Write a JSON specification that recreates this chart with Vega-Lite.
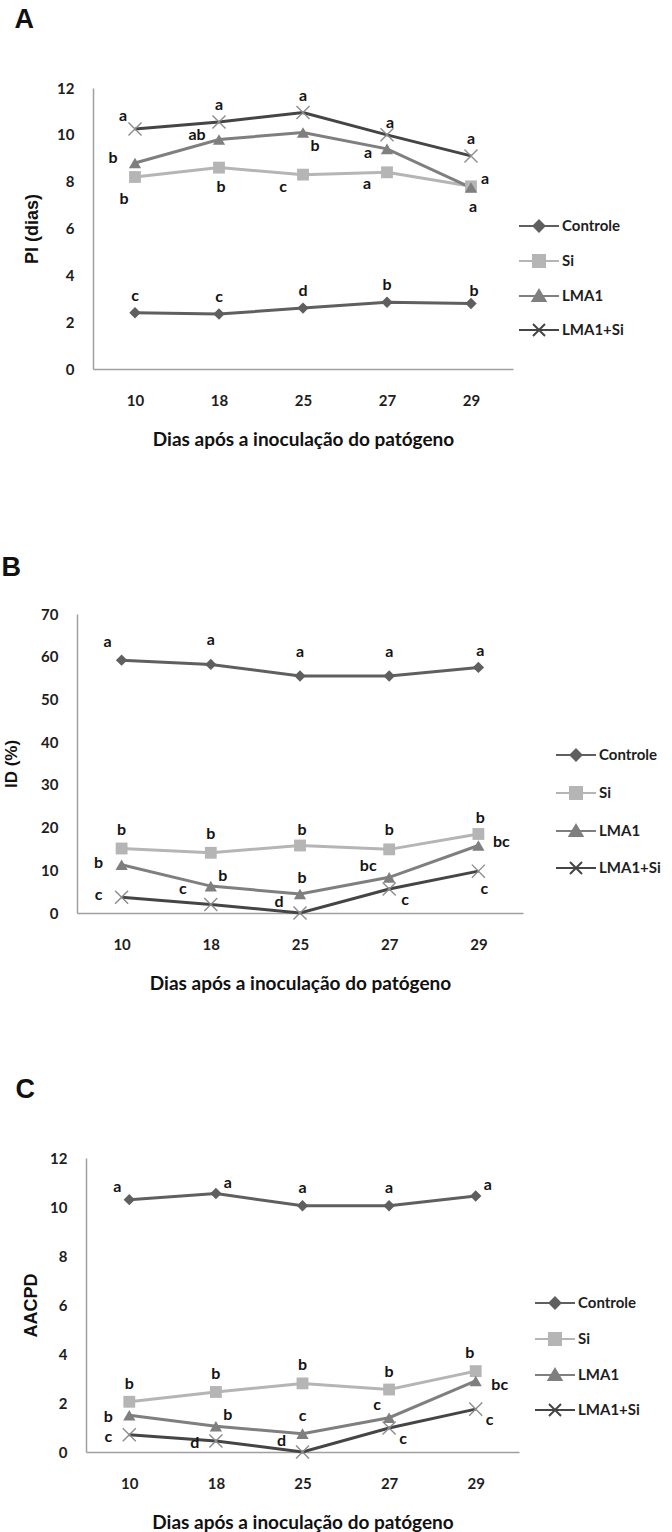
{
  "$schema": "https://vega.github.io/schema/vega-lite/v6.json",
  "background": "white",
  "padding": {"left": 1, "top": 6, "right": 0, "bottom": 0},
  "datasets": {
    "A": [
      {"dia": 10, "serie": "Controle", "valor": 2.4, "letra": "c"},
      {"dia": 18, "serie": "Controle", "valor": 2.35, "letra": "c"},
      {"dia": 25, "serie": "Controle", "valor": 2.6, "letra": "d"},
      {"dia": 27, "serie": "Controle", "valor": 2.85, "letra": "b"},
      {"dia": 29, "serie": "Controle", "valor": 2.8, "letra": "b"},
      {"dia": 10, "serie": "Si", "valor": 8.2, "letra": "b"},
      {"dia": 18, "serie": "Si", "valor": 8.6, "letra": "b"},
      {"dia": 25, "serie": "Si", "valor": 8.3, "letra": "c"},
      {"dia": 27, "serie": "Si", "valor": 8.4, "letra": "a"},
      {"dia": 29, "serie": "Si", "valor": 7.8, "letra": "a"},
      {"dia": 10, "serie": "LMA1", "valor": 8.8, "letra": "b"},
      {"dia": 18, "serie": "LMA1", "valor": 9.8, "letra": "ab"},
      {"dia": 25, "serie": "LMA1", "valor": 10.1, "letra": "b"},
      {"dia": 27, "serie": "LMA1", "valor": 9.4, "letra": "a"},
      {"dia": 29, "serie": "LMA1", "valor": 7.75, "letra": "a"},
      {"dia": 10, "serie": "LMA1+Si", "valor": 10.25, "letra": "a"},
      {"dia": 18, "serie": "LMA1+Si", "valor": 10.55, "letra": "a"},
      {"dia": 25, "serie": "LMA1+Si", "valor": 10.95, "letra": "a"},
      {"dia": 27, "serie": "LMA1+Si", "valor": 10.0, "letra": "a"},
      {"dia": 29, "serie": "LMA1+Si", "valor": 9.1, "letra": "a"}
    ],
    "B": [
      {"dia": 10, "serie": "Controle", "valor": 59.2, "letra": "a"},
      {"dia": 18, "serie": "Controle", "valor": 58.2, "letra": "a"},
      {"dia": 25, "serie": "Controle", "valor": 55.5, "letra": "a"},
      {"dia": 27, "serie": "Controle", "valor": 55.5, "letra": "a"},
      {"dia": 29, "serie": "Controle", "valor": 57.5, "letra": "a"},
      {"dia": 10, "serie": "Si", "valor": 15.1, "letra": "b"},
      {"dia": 18, "serie": "Si", "valor": 14.1, "letra": "b"},
      {"dia": 25, "serie": "Si", "valor": 15.8, "letra": "b"},
      {"dia": 27, "serie": "Si", "valor": 14.9, "letra": "b"},
      {"dia": 29, "serie": "Si", "valor": 18.5, "letra": "b"},
      {"dia": 10, "serie": "LMA1", "valor": 11.3, "letra": "b"},
      {"dia": 18, "serie": "LMA1", "valor": 6.3, "letra": "b"},
      {"dia": 25, "serie": "LMA1", "valor": 4.45, "letra": "b"},
      {"dia": 27, "serie": "LMA1", "valor": 8.35, "letra": "bc"},
      {"dia": 29, "serie": "LMA1", "valor": 15.8, "letra": "bc"},
      {"dia": 10, "serie": "LMA1+Si", "valor": 3.7, "letra": "c"},
      {"dia": 18, "serie": "LMA1+Si", "valor": 2.0, "letra": "c"},
      {"dia": 25, "serie": "LMA1+Si", "valor": 0, "letra": "d"},
      {"dia": 27, "serie": "LMA1+Si", "valor": 5.6, "letra": "c"},
      {"dia": 29, "serie": "LMA1+Si", "valor": 9.8, "letra": "c"}
    ],
    "C": [
      {"dia": 10, "serie": "Controle", "valor": 10.3, "letra": "a"},
      {"dia": 18, "serie": "Controle", "valor": 10.55, "letra": "a"},
      {"dia": 25, "serie": "Controle", "valor": 10.05, "letra": "a"},
      {"dia": 27, "serie": "Controle", "valor": 10.05, "letra": "a"},
      {"dia": 29, "serie": "Controle", "valor": 10.45, "letra": "a"},
      {"dia": 10, "serie": "Si", "valor": 2.05, "letra": "b"},
      {"dia": 18, "serie": "Si", "valor": 2.45, "letra": "b"},
      {"dia": 25, "serie": "Si", "valor": 2.8, "letra": "b"},
      {"dia": 27, "serie": "Si", "valor": 2.55, "letra": "b"},
      {"dia": 29, "serie": "Si", "valor": 3.3, "letra": "b"},
      {"dia": 10, "serie": "LMA1", "valor": 1.5, "letra": "b"},
      {"dia": 18, "serie": "LMA1", "valor": 1.05, "letra": "b"},
      {"dia": 25, "serie": "LMA1", "valor": 0.75, "letra": "c"},
      {"dia": 27, "serie": "LMA1", "valor": 1.4, "letra": "c"},
      {"dia": 29, "serie": "LMA1", "valor": 2.9, "letra": "bc"},
      {"dia": 10, "serie": "LMA1+Si", "valor": 0.7, "letra": "c"},
      {"dia": 18, "serie": "LMA1+Si", "valor": 0.45, "letra": "d"},
      {"dia": 25, "serie": "LMA1+Si", "valor": 0, "letra": "d"},
      {"dia": 27, "serie": "LMA1+Si", "valor": 0.98, "letra": "c"},
      {"dia": 29, "serie": "LMA1+Si", "valor": 1.75, "letra": "c"}
    ]
  },
  "columns": 1,
  "bounds": "flush",
  "spacing": 245,
  "resolve": {
    "scale": {"color": "independent", "shape": "independent"},
    "legend": {"color": "independent", "shape": "independent"}
  },
  "concat": [
    {
      "title": {"text": "A", "dx": -9},
      "width": 436,
      "height": 281,
      "data": {"name": "A"},
      "encoding": {
        "x": {"field": "dia", "type": "ordinal", "scale": {"type": "point", "padding": 0.5, "range": [16, 436]}, "axis": {"title": "Dias após a inoculação do patógeno"}},
        "y": {"field": "valor", "type": "quantitative", "scale": {"domain": [0, 12], "nice": false}, "axis": {"title": "PI (dias)", "values": [0, 2, 4, 6, 8, 10, 12], "titlePadding": 15, "offset": -16}}
      },
      "layer": [
        {
          "mark": {"type": "line", "strokeWidth": 3},
          "encoding": {
            "color": {
              "field": "serie", "type": "nominal",
              "scale": {"domain": ["Controle", "Si", "LMA1", "LMA1+Si"], "range": ["#5f5f5f", "#b5b5b5", "#7f7f7f", "#454545"]},
              "legend": {
                "title": null, "orient": "none", "legendX": 451, "legendY": 127, "rowPadding": 14,
                "encode": {"symbols": {"update": {
                  "shape": {"signal": "datum.value === 'Controle' ? 'M-2,0H2M0,-0.55L0.55,0L0,0.55L-0.55,0Z' : datum.value === 'Si' ? 'M-2,0H2M-0.6,-0.6H0.6V0.6H-0.6Z' : datum.value === 'LMA1' ? 'M-2,0H2M0,-0.6L0.65,0.5L-0.65,0.5Z' : 'M-2,0H2M-0.6,-0.6L0.6,0.6M-0.6,0.6L0.6,-0.6'"},
                  "fill": {"signal": "datum.value === 'Controle' ? '#5f5f5f' : datum.value === 'Si' ? '#b5b5b5' : datum.value === 'LMA1' ? '#7f7f7f' : 'transparent'"},
                  "stroke": {"signal": "datum.value === 'Controle' ? '#5f5f5f' : datum.value === 'Si' ? '#b5b5b5' : datum.value === 'LMA1' ? '#7f7f7f' : '#454545'"},
                  "opacity": {"value": 1},
                  "strokeWidth": {"value": 2}
                }}}
              }
            }
          }
        },
        {
          "transform": [{"filter": "datum.serie !== 'LMA1+Si'"}],
          "mark": {"type": "point", "filled": true, "opacity": 1},
          "encoding": {
            "color": {"field": "serie", "type": "nominal", "legend": null},
            "shape": {"field": "serie", "type": "nominal", "scale": {"domain": ["Controle", "Si", "LMA1"], "range": ["diamond", "square", "triangle-up"]}, "legend": null},
            "size": {"field": "serie", "type": "nominal", "scale": {"domain": ["Controle", "Si", "LMA1"], "range": [130, 150, 130]}, "legend": null}
          }
        },
        {
          "transform": [{"filter": "datum.serie === 'LMA1+Si'"}],
          "mark": {"type": "point", "shape": "M-1,-1L1,1M-1,1L1,-1", "size": 170, "filled": false, "stroke": "#8c8c8c", "strokeWidth": 1.4, "opacity": 1}
        },
        {"transform": [{"filter": "indexof(['Controle|10','Controle|18','Controle|25','Controle|27','LMA1+Si|18','LMA1+Si|25','LMA1+Si|29'], datum.serie + '|' + datum.dia) >= 0"}], "mark": {"type": "text", "font": "Lato", "fontWeight": "bold", "fontSize": 16, "color": "#141414", "align": "center", "baseline": "middle", "dx": 0, "dy": -17}, "encoding": {"text": {"field": "letra"}}},
        {"transform": [{"filter": "indexof(['LMA1+Si|27','Controle|29'], datum.serie + '|' + datum.dia) >= 0"}], "mark": {"type": "text", "font": "Lato", "fontWeight": "bold", "fontSize": 16, "color": "#141414", "align": "center", "baseline": "middle", "dx": 3, "dy": -12}, "encoding": {"text": {"field": "letra"}}},
        {"transform": [{"filter": "indexof(['LMA1+Si|10'], datum.serie + '|' + datum.dia) >= 0"}], "mark": {"type": "text", "font": "Lato", "fontWeight": "bold", "fontSize": 16, "color": "#141414", "align": "center", "baseline": "middle", "dx": -12, "dy": -13}, "encoding": {"text": {"field": "letra"}}},
        {"transform": [{"filter": "indexof(['LMA1|10','LMA1|18'], datum.serie + '|' + datum.dia) >= 0"}], "mark": {"type": "text", "font": "Lato", "fontWeight": "bold", "fontSize": 16, "color": "#141414", "align": "center", "baseline": "middle", "dx": -22, "dy": -5}, "encoding": {"text": {"field": "letra"}}},
        {"transform": [{"filter": "indexof(['LMA1|27'], datum.serie + '|' + datum.dia) >= 0"}], "mark": {"type": "text", "font": "Lato", "fontWeight": "bold", "fontSize": 16, "color": "#141414", "align": "center", "baseline": "middle", "dx": -19, "dy": 4}, "encoding": {"text": {"field": "letra"}}},
        {"transform": [{"filter": "indexof(['Si|25','Si|27'], datum.serie + '|' + datum.dia) >= 0"}], "mark": {"type": "text", "font": "Lato", "fontWeight": "bold", "fontSize": 16, "color": "#141414", "align": "center", "baseline": "middle", "dx": -20, "dy": 12}, "encoding": {"text": {"field": "letra"}}},
        {"transform": [{"filter": "indexof(['Si|10'], datum.serie + '|' + datum.dia) >= 0"}], "mark": {"type": "text", "font": "Lato", "fontWeight": "bold", "fontSize": 16, "color": "#141414", "align": "center", "baseline": "middle", "dx": -11, "dy": 22}, "encoding": {"text": {"field": "letra"}}},
        {"transform": [{"filter": "indexof(['Si|18','LMA1|29'], datum.serie + '|' + datum.dia) >= 0"}], "mark": {"type": "text", "font": "Lato", "fontWeight": "bold", "fontSize": 16, "color": "#141414", "align": "center", "baseline": "middle", "dx": 2, "dy": 19}, "encoding": {"text": {"field": "letra"}}},
        {"transform": [{"filter": "indexof(['LMA1|25'], datum.serie + '|' + datum.dia) >= 0"}], "mark": {"type": "text", "font": "Lato", "fontWeight": "bold", "fontSize": 16, "color": "#141414", "align": "center", "baseline": "middle", "dx": 12, "dy": 14}, "encoding": {"text": {"field": "letra"}}},
        {"transform": [{"filter": "indexof(['Si|29'], datum.serie + '|' + datum.dia) >= 0"}], "mark": {"type": "text", "font": "Lato", "fontWeight": "bold", "fontSize": 16, "color": "#141414", "align": "center", "baseline": "middle", "dx": 14, "dy": -7}, "encoding": {"text": {"field": "letra"}}}
      ]
    },
    {
      "title": {"text": "B", "dx": -1, "offset": 25},
      "width": 446,
      "height": 299,
      "data": {"name": "B"},
      "encoding": {
        "x": {"field": "dia", "type": "ordinal", "scale": {"type": "point", "padding": 0.5}, "axis": {"title": "Dias após a inoculação do patógeno"}},
        "y": {"field": "valor", "type": "quantitative", "scale": {"domain": [0, 70], "nice": false}, "axis": {"title": "ID (%)", "values": [0, 10, 20, 30, 40, 50, 60, 70], "titlePadding": 20, "titleFontSize": 17}}
      },
      "layer": [
        {
          "mark": {"type": "line", "strokeWidth": 3},
          "encoding": {
            "color": {
              "field": "serie", "type": "nominal",
              "scale": {"domain": ["Controle", "Si", "LMA1", "LMA1+Si"], "range": ["#5f5f5f", "#b5b5b5", "#7f7f7f", "#454545"]},
              "legend": {
                "title": null, "orient": "none", "legendX": 488, "legendY": 130, "rowPadding": 17,
                "encode": {"symbols": {"update": {
                  "shape": {"signal": "datum.value === 'Controle' ? 'M-2,0H2M0,-0.55L0.55,0L0,0.55L-0.55,0Z' : datum.value === 'Si' ? 'M-2,0H2M-0.6,-0.6H0.6V0.6H-0.6Z' : datum.value === 'LMA1' ? 'M-2,0H2M0,-0.6L0.65,0.5L-0.65,0.5Z' : 'M-2,0H2M-0.6,-0.6L0.6,0.6M-0.6,0.6L0.6,-0.6'"},
                  "fill": {"signal": "datum.value === 'Controle' ? '#5f5f5f' : datum.value === 'Si' ? '#b5b5b5' : datum.value === 'LMA1' ? '#7f7f7f' : 'transparent'"},
                  "stroke": {"signal": "datum.value === 'Controle' ? '#5f5f5f' : datum.value === 'Si' ? '#b5b5b5' : datum.value === 'LMA1' ? '#7f7f7f' : '#454545'"},
                  "opacity": {"value": 1},
                  "strokeWidth": {"value": 2}
                }}}
              }
            }
          }
        },
        {
          "transform": [{"filter": "datum.serie !== 'LMA1+Si'"}],
          "mark": {"type": "point", "filled": true, "opacity": 1},
          "encoding": {
            "color": {"field": "serie", "type": "nominal", "legend": null},
            "shape": {"field": "serie", "type": "nominal", "scale": {"domain": ["Controle", "Si", "LMA1"], "range": ["diamond", "square", "triangle-up"]}, "legend": null},
            "size": {"field": "serie", "type": "nominal", "scale": {"domain": ["Controle", "Si", "LMA1"], "range": [130, 150, 130]}, "legend": null}
          }
        },
        {
          "transform": [{"filter": "datum.serie === 'LMA1+Si'"}],
          "mark": {"type": "point", "shape": "M-1,-1L1,1M-1,1L1,-1", "size": 170, "filled": false, "stroke": "#8c8c8c", "strokeWidth": 1.4, "opacity": 1}
        },
        {"transform": [{"filter": "indexof(['Si|10','Si|18','Si|27'], datum.serie + '|' + datum.dia) >= 0"}], "mark": {"type": "text", "font": "Lato", "fontWeight": "bold", "fontSize": 16, "color": "#141414", "align": "center", "baseline": "middle", "dx": 0, "dy": -19}, "encoding": {"text": {"field": "letra"}}},
        {"transform": [{"filter": "indexof(['Controle|18','Controle|25','Controle|27'], datum.serie + '|' + datum.dia) >= 0"}], "mark": {"type": "text", "font": "Lato", "fontWeight": "bold", "fontSize": 16, "color": "#141414", "align": "center", "baseline": "middle", "dx": 0, "dy": -24}, "encoding": {"text": {"field": "letra"}}},
        {"transform": [{"filter": "indexof(['Si|25','Si|29','LMA1|25','Controle|29'], datum.serie + '|' + datum.dia) >= 0"}], "mark": {"type": "text", "font": "Lato", "fontWeight": "bold", "fontSize": 16, "color": "#141414", "align": "center", "baseline": "middle", "dx": 2, "dy": -16}, "encoding": {"text": {"field": "letra"}}},
        {"transform": [{"filter": "indexof(['Controle|10'], datum.serie + '|' + datum.dia) >= 0"}], "mark": {"type": "text", "font": "Lato", "fontWeight": "bold", "fontSize": 16, "color": "#141414", "align": "center", "baseline": "middle", "dx": -14, "dy": -18}, "encoding": {"text": {"field": "letra"}}},
        {"transform": [{"filter": "indexof(['LMA1+Si|18'], datum.serie + '|' + datum.dia) >= 0"}], "mark": {"type": "text", "font": "Lato", "fontWeight": "bold", "fontSize": 16, "color": "#141414", "align": "center", "baseline": "middle", "dx": -28, "dy": -15}, "encoding": {"text": {"field": "letra"}}},
        {"transform": [{"filter": "indexof(['LMA1+Si|25','LMA1|27'], datum.serie + '|' + datum.dia) >= 0"}], "mark": {"type": "text", "font": "Lato", "fontWeight": "bold", "fontSize": 16, "color": "#141414", "align": "center", "baseline": "middle", "dx": -21, "dy": -11}, "encoding": {"text": {"field": "letra"}}},
        {"transform": [{"filter": "indexof(['LMA1|10','LMA1+Si|10'], datum.serie + '|' + datum.dia) >= 0"}], "mark": {"type": "text", "font": "Lato", "fontWeight": "bold", "fontSize": 16, "color": "#141414", "align": "center", "baseline": "middle", "dx": -23, "dy": -2}, "encoding": {"text": {"field": "letra"}}},
        {"transform": [{"filter": "indexof(['LMA1|18'], datum.serie + '|' + datum.dia) >= 0"}], "mark": {"type": "text", "font": "Lato", "fontWeight": "bold", "fontSize": 16, "color": "#141414", "align": "center", "baseline": "middle", "dx": 12, "dy": -10}, "encoding": {"text": {"field": "letra"}}},
        {"transform": [{"filter": "indexof(['LMA1|29'], datum.serie + '|' + datum.dia) >= 0"}], "mark": {"type": "text", "font": "Lato", "fontWeight": "bold", "fontSize": 16, "color": "#141414", "align": "center", "baseline": "middle", "dx": 23, "dy": -4}, "encoding": {"text": {"field": "letra"}}},
        {"transform": [{"filter": "indexof(['LMA1+Si|27'], datum.serie + '|' + datum.dia) >= 0"}], "mark": {"type": "text", "font": "Lato", "fontWeight": "bold", "fontSize": 16, "color": "#141414", "align": "center", "baseline": "middle", "dx": 16, "dy": 11}, "encoding": {"text": {"field": "letra"}}},
        {"transform": [{"filter": "indexof(['LMA1+Si|29'], datum.serie + '|' + datum.dia) >= 0"}], "mark": {"type": "text", "font": "Lato", "fontWeight": "bold", "fontSize": 16, "color": "#141414", "align": "center", "baseline": "middle", "dx": 6, "dy": 18}, "encoding": {"text": {"field": "letra"}}}
      ]
    },
    {
      "title": {"text": "C", "dx": -7},
      "width": 442,
      "height": 294,
      "data": {"name": "C"},
      "encoding": {
        "x": {"field": "dia", "type": "ordinal", "scale": {"type": "point", "padding": 0.5, "range": [9, 442]}, "axis": {"title": "Dias após a inoculação do patógeno"}},
        "y": {"field": "valor", "type": "quantitative", "scale": {"domain": [0, 12], "nice": false}, "axis": {"title": "AACPD", "values": [0, 2, 4, 6, 8, 10, 12], "titlePadding": 9, "offset": -9}}
      },
      "layer": [
        {
          "mark": {"type": "line", "strokeWidth": 3},
          "encoding": {
            "color": {
              "field": "serie", "type": "nominal",
              "scale": {"domain": ["Controle", "Si", "LMA1", "LMA1+Si"], "range": ["#5f5f5f", "#b5b5b5", "#7f7f7f", "#454545"]},
              "legend": {
                "title": null, "orient": "none", "legendX": 467, "legendY": 134, "rowPadding": 15,
                "encode": {"symbols": {"update": {
                  "shape": {"signal": "datum.value === 'Controle' ? 'M-2,0H2M0,-0.55L0.55,0L0,0.55L-0.55,0Z' : datum.value === 'Si' ? 'M-2,0H2M-0.6,-0.6H0.6V0.6H-0.6Z' : datum.value === 'LMA1' ? 'M-2,0H2M0,-0.6L0.65,0.5L-0.65,0.5Z' : 'M-2,0H2M-0.6,-0.6L0.6,0.6M-0.6,0.6L0.6,-0.6'"},
                  "fill": {"signal": "datum.value === 'Controle' ? '#5f5f5f' : datum.value === 'Si' ? '#b5b5b5' : datum.value === 'LMA1' ? '#7f7f7f' : 'transparent'"},
                  "stroke": {"signal": "datum.value === 'Controle' ? '#5f5f5f' : datum.value === 'Si' ? '#b5b5b5' : datum.value === 'LMA1' ? '#7f7f7f' : '#454545'"},
                  "opacity": {"value": 1},
                  "strokeWidth": {"value": 2}
                }}}
              }
            }
          }
        },
        {
          "transform": [{"filter": "datum.serie !== 'LMA1+Si'"}],
          "mark": {"type": "point", "filled": true, "opacity": 1},
          "encoding": {
            "color": {"field": "serie", "type": "nominal", "legend": null},
            "shape": {"field": "serie", "type": "nominal", "scale": {"domain": ["Controle", "Si", "LMA1"], "range": ["diamond", "square", "triangle-up"]}, "legend": null},
            "size": {"field": "serie", "type": "nominal", "scale": {"domain": ["Controle", "Si", "LMA1"], "range": [130, 150, 130]}, "legend": null}
          }
        },
        {
          "transform": [{"filter": "datum.serie === 'LMA1+Si'"}],
          "mark": {"type": "point", "shape": "M-1,-1L1,1M-1,1L1,-1", "size": 170, "filled": false, "stroke": "#8c8c8c", "strokeWidth": 1.4, "opacity": 1}
        },
        {"transform": [{"filter": "indexof(['Controle|25','Controle|27','Si|10','Si|18','Si|25','Si|27','LMA1|25'], datum.serie + '|' + datum.dia) >= 0"}], "mark": {"type": "text", "font": "Lato", "fontWeight": "bold", "fontSize": 16, "color": "#141414", "align": "center", "baseline": "middle", "dx": 0, "dy": -18}, "encoding": {"text": {"field": "letra"}}},
        {"transform": [{"filter": "indexof(['Si|29'], datum.serie + '|' + datum.dia) >= 0"}], "mark": {"type": "text", "font": "Lato", "fontWeight": "bold", "fontSize": 16, "color": "#141414", "align": "center", "baseline": "middle", "dx": -6, "dy": -18}, "encoding": {"text": {"field": "letra"}}},
        {"transform": [{"filter": "indexof(['Controle|10','LMA1|27'], datum.serie + '|' + datum.dia) >= 0"}], "mark": {"type": "text", "font": "Lato", "fontWeight": "bold", "fontSize": 16, "color": "#141414", "align": "center", "baseline": "middle", "dx": -12, "dy": -13}, "encoding": {"text": {"field": "letra"}}},
        {"transform": [{"filter": "indexof(['LMA1+Si|25'], datum.serie + '|' + datum.dia) >= 0"}], "mark": {"type": "text", "font": "Lato", "fontWeight": "bold", "fontSize": 16, "color": "#141414", "align": "center", "baseline": "middle", "dx": -21, "dy": -11}, "encoding": {"text": {"field": "letra"}}},
        {"transform": [{"filter": "indexof(['Controle|18','LMA1|18','Controle|29'], datum.serie + '|' + datum.dia) >= 0"}], "mark": {"type": "text", "font": "Lato", "fontWeight": "bold", "fontSize": 16, "color": "#141414", "align": "center", "baseline": "middle", "dx": 12, "dy": -11}, "encoding": {"text": {"field": "letra"}}},
        {"transform": [{"filter": "indexof(['LMA1|10','LMA1+Si|18','LMA1+Si|10'], datum.serie + '|' + datum.dia) >= 0"}], "mark": {"type": "text", "font": "Lato", "fontWeight": "bold", "fontSize": 16, "color": "#141414", "align": "center", "baseline": "middle", "dx": -21, "dy": 2}, "encoding": {"text": {"field": "letra"}}},
        {"transform": [{"filter": "indexof(['LMA1|29'], datum.serie + '|' + datum.dia) >= 0"}], "mark": {"type": "text", "font": "Lato", "fontWeight": "bold", "fontSize": 16, "color": "#141414", "align": "center", "baseline": "middle", "dx": 24, "dy": 4}, "encoding": {"text": {"field": "letra"}}},
        {"transform": [{"filter": "indexof(['LMA1+Si|27','LMA1+Si|29'], datum.serie + '|' + datum.dia) >= 0"}], "mark": {"type": "text", "font": "Lato", "fontWeight": "bold", "fontSize": 16, "color": "#141414", "align": "center", "baseline": "middle", "dx": 14, "dy": 11}, "encoding": {"text": {"field": "letra"}}}
      ]
    }
  ],
  "config": {
    "view": {"stroke": null},
    "font": "Lato",
    "axis": {
      "domainColor": "#a0a0a0", "domainWidth": 1.5, "ticks": false, "grid": false,
      "labelFont": "Lato", "labelFontWeight": "bold", "labelFontSize": 15, "labelColor": "#1e1e1e",
      "titleColor": "#111111"
    },
    "axisX": {"labelAngle": 0, "labelPadding": 24, "titleFont": "Lato", "titleFontSize": 19, "titleFontWeight": "bold", "titlePadding": 22},
    "axisY": {"labelPadding": 19, "titleFont": "Liberation Sans", "titleFontSize": 18, "titleFontWeight": "bold"},
    "legend": {
      "labelFont": "Lato", "labelFontWeight": "bold", "labelFontSize": 15, "labelColor": "#1e1e1e",
      "symbolSize": 400, "symbolStrokeWidth": 2, "labelOffset": 12, "padding": 0
    },
    "title": {"font": "Liberation Sans", "fontSize": 27, "fontWeight": "bold", "anchor": "start", "frame": "bounds", "baseline": "bottom", "offset": 47, "color": "#111111"}
  }
}
